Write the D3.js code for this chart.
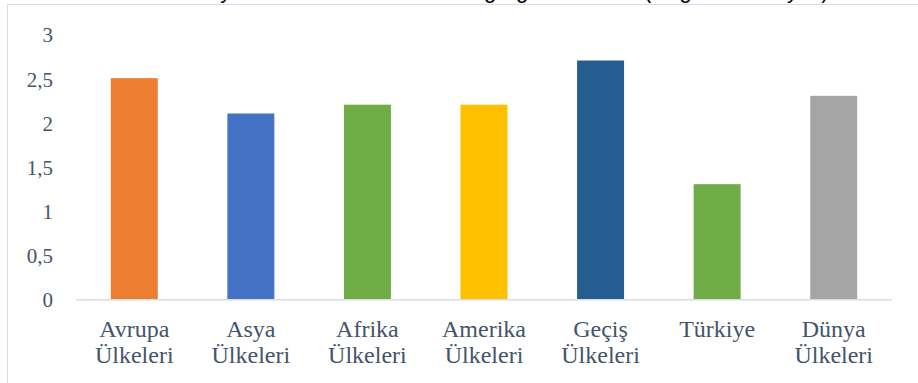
<!DOCTYPE html>
<html><head><meta charset="utf-8">
<script src="https://cdn.jsdelivr.net/npm/d3@7"></script>
<style>body{margin:0;background:#fff}svg{display:block}</style>
</head><body>
<svg id="c" width="918" height="383"></svg>
<script>
const categories = [["Avrupa","Ülkeleri"],["Asya","Ülkeleri"],["Afrika","Ülkeleri"],["Amerika","Ülkeleri"],["Geçiş","Ülkeleri"],["Türkiye"],["Dünya","Ülkeleri"]];
const values = [2.5, 2.1, 2.2, 2.2, 2.7, 1.3, 2.3];
const colors = ["#ED7D31","#4472C4","#70AD47","#FFC000","#255E91","#70AD47","#A5A5A5"];
const yTicks = [0, 0.5, 1, 1.5, 2, 2.5, 3];
const titleParts = ["Dünya Ülkelerinde Ortalama", "Doğurganlık Oranı", "(Doğum", "Sayısı)"];

const svg = d3.select("#c");
// border of chart area
svg.append("line").attr("x1",7.5).attr("x2",918).attr("y1",4.5).attr("y2",4.5).attr("stroke","#d9dde3");
svg.append("line").attr("x1",7.5).attr("x2",7.5).attr("y1",4.5).attr("y2",383).attr("stroke","#d9dde3");
// cut-off title (only descenders visible, as in the reference)
const tt = svg.append("text").attr("y",-2)
  .attr("font-family","'Liberation Sans', sans-serif")
  .attr("font-size",22).attr("fill","#000");
const partX = [180, 456, 644, 760];
tt.selectAll("tspan").data(titleParts).join("tspan").attr("x",(d,i)=>partX[i]).text(d=>d);

const x = d3.scaleBand().domain(d3.range(values.length)).range([76, 892]).paddingInner(0.597).paddingOuter(0.2985);
const y = d3.scaleLinear().domain([0, 3]).range([299, 34]);

const font = "'Liberation Serif', 'Times New Roman', serif";
const tc = "#44546A";

// y labels
svg.append("g").selectAll("text").data(yTicks).join("text")
  .attr("x", 53).attr("y", d => y(d) + 1).attr("dy","0.35em").attr("text-anchor","end")
  .attr("font-family", font).attr("font-size", 21).attr("fill", tc)
  .text(d => String(d).replace(".", ","));

// bars
svg.append("g").selectAll("rect").data(values).join("rect")
  .attr("x", (d,i) => x(i)).attr("width", x.bandwidth())
  .attr("y", d => y(d)).attr("height", d => y(0) - y(d))
  .attr("fill", (d,i) => colors[i]);

// axis line
svg.append("line").attr("x1",76).attr("x2",892).attr("y1",y(0)+0.8).attr("y2",y(0)+0.8)
  .attr("stroke","#d9dde3").attr("stroke-width",1.4);

// x labels
const xl = svg.append("g").selectAll("text").data(categories).join("text")
  .attr("x", (d,i) => x(i) + x.bandwidth()/2).attr("y", 337)
  .attr("text-anchor","middle").attr("font-family", font).attr("font-size", 24).attr("fill", tc);
xl.selectAll("tspan").data(d => d).join("tspan")
  .attr("x", function(){ return d3.select(this.parentNode).attr("x"); })
  .attr("dy", (d,i) => i === 0 ? 0 : 26).text(d => d);
</script>
</body></html>
